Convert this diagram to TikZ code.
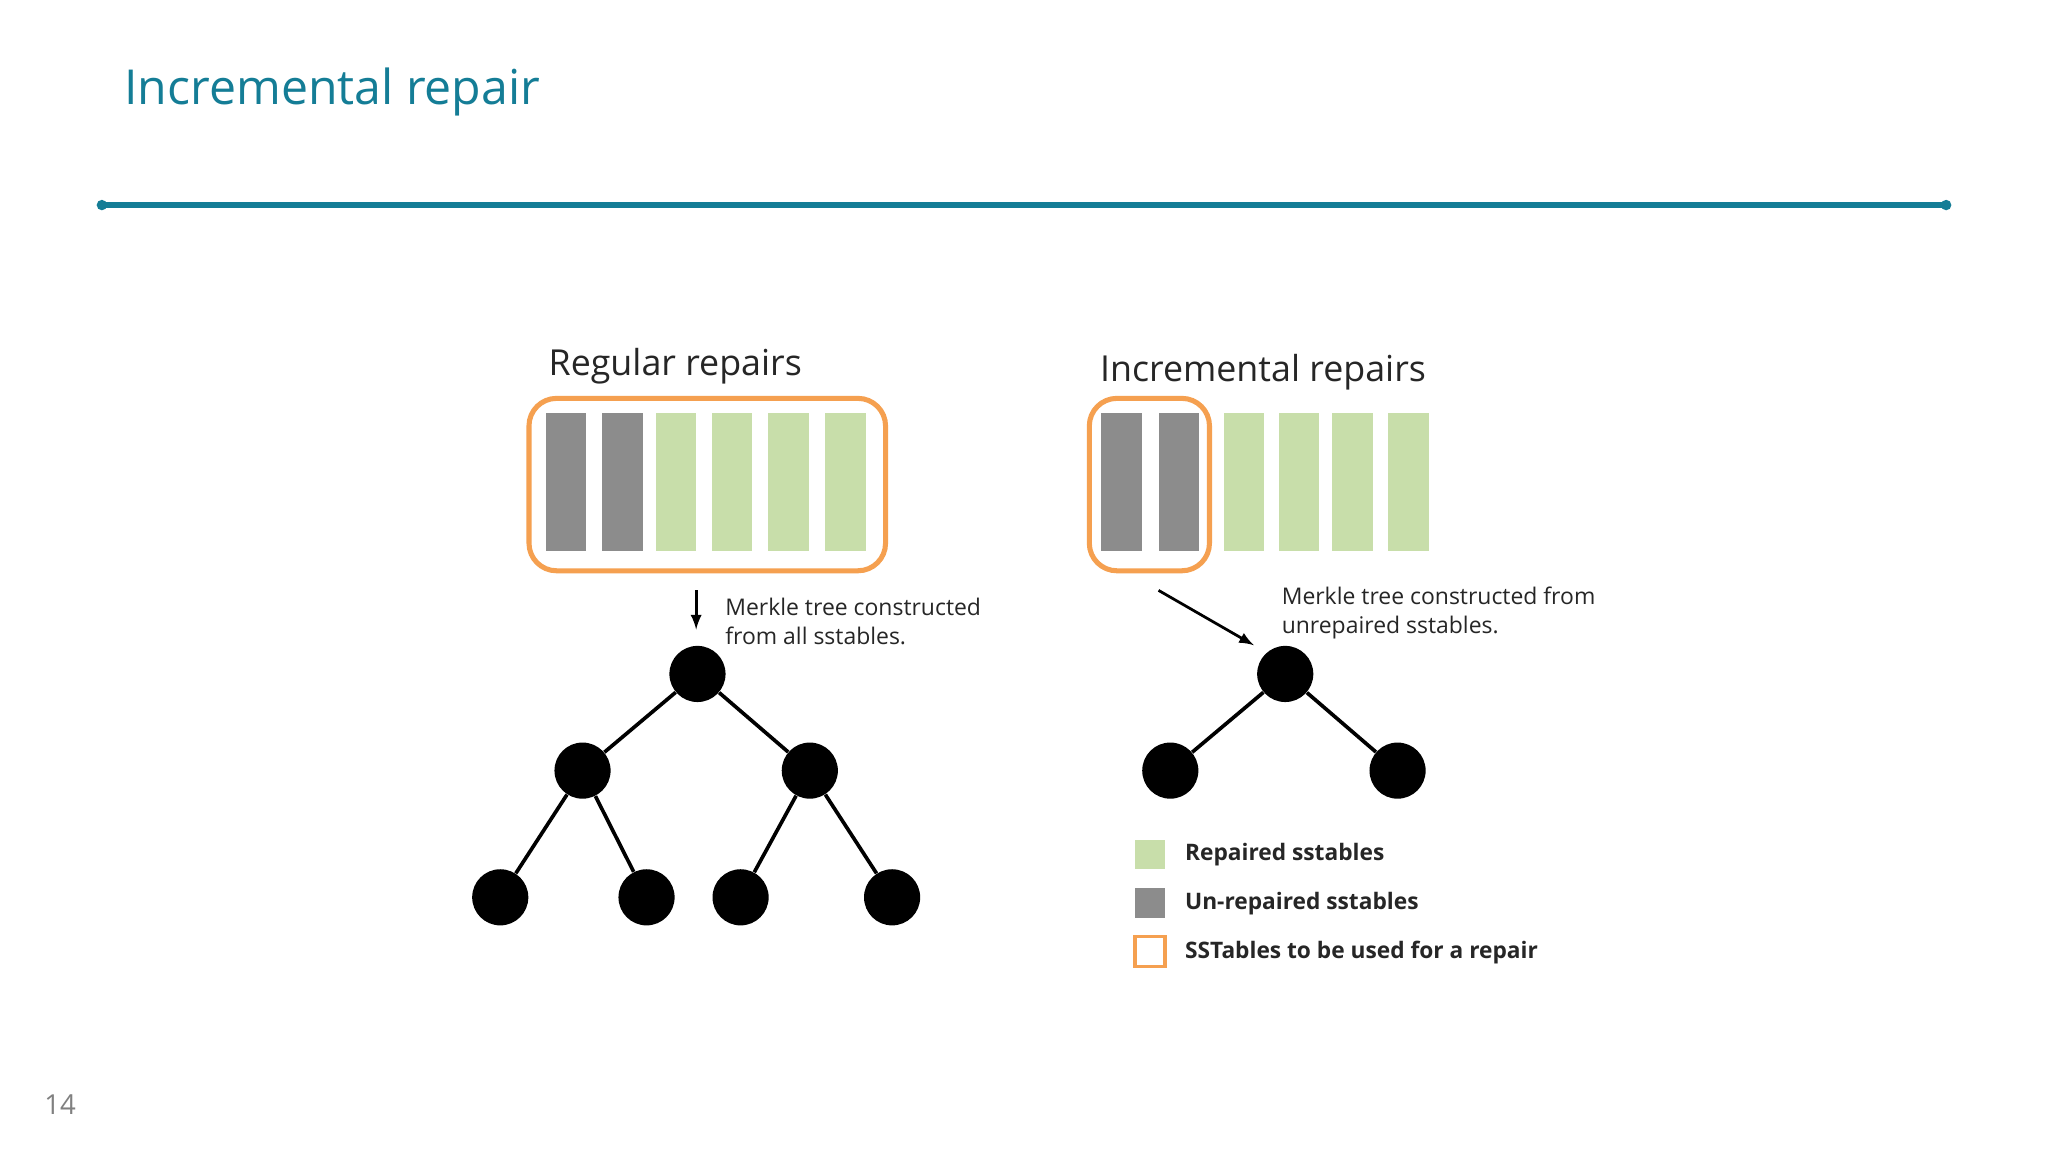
\documentclass[tikz,border=0pt]{standalone}
\usepackage{fontspec}
\setmainfont{Open Sans}
\usepackage{tikz}
\usetikzlibrary{arrows}
\definecolor{teal}{RGB}{20,125,150}
\definecolor{repgreen}{RGB}{200,222,170}
\definecolor{unrepgray}{RGB}{140,140,140}
\definecolor{orng}{RGB}{245,160,80}
\tikzset{
  dot/.style={circle,fill=black,minimum size=0.86cm,inner sep=0pt},
  edge/.style={line width=1.6pt},
  txt/.style={font=\fontsize{10}{12.6}\selectfont,anchor=west,inner sep=0pt,text=black!85,align=left},
  leg/.style={font=\fontsize{9.9}{12}\selectfont\bfseries,anchor=west,inner sep=0pt,text=black!85}
}
\begin{document}
\begin{tikzpicture}[x=0.02cm,y=-0.02cm]
\useasboundingbox (0,0) rectangle (1568,882);
\fill[white] (0,0) rectangle (1568,882);
\node[anchor=base west,inner sep=0pt,text=teal,font=\fontsize{21}{24}\selectfont] (title) at (95,80) {Incremental repair};
\draw[teal,line width=2.4pt] (78,157) -- (1490,157);
\fill[teal] (78,157) circle (4) (1490,157) circle (4);
\node[text=gray,font=\fontsize{12}{14}\selectfont] (page) at (46,846) {14};
% regular repairs
\node[font=\fontsize{15.6}{18}\selectfont,text=black!85] (regt) at (517,280) {Regular repairs};
\foreach \x in {418,461} \fill[unrepgray] (\x,316) rectangle (\x+31,422);
\foreach \x in {502,545,588,632} \fill[repgreen] (\x,316) rectangle (\x+31,422);
\draw[orng,line width=2.2pt,rounded corners=12] (405,305) rectangle (678,437);
\path (533,452) coordinate (A1);
\path (533,482) coordinate (A2);
\draw[-latex,line width=1.2pt] (A1) -- (A2);
\node[txt] (regm) at (555,476) {Merkle tree constructed\\from all sstables.};
\node[dot] (r) at (534,516) {};
\node[dot] (r1) at (446,590) {};
\node[dot] (r2) at (620,590) {};
\node[dot] (r11) at (383,687) {};
\node[dot] (r12) at (495,687) {};
\node[dot] (r21) at (567,687) {};
\node[dot] (r22) at (683,687) {};
\draw[edge] (r) -- (r1) (r) -- (r2) (r1) -- (r11) (r1) -- (r12) (r2) -- (r21) (r2) -- (r22);
% incremental repairs
\node[font=\fontsize{15.6}{18}\selectfont,text=black!85] (inct) at (967,285) {Incremental repairs};
\foreach \x in {843,887} \fill[unrepgray] (\x,316) rectangle (\x+31,422);
\foreach \x in {937,979,1020,1063} \fill[repgreen] (\x,316) rectangle (\x+31,422);
\draw[orng,line width=2.2pt,rounded corners=12] (834,305) rectangle (926,437);
\path (887,452) coordinate (B1);
\path (960,494) coordinate (B2);
\draw[-latex,line width=1.2pt] (B1) -- (B2);
\node[txt] (incm) at (981,469) {Merkle tree constructed from\\unrepaired sstables.};
\node[dot] (i) at (984,516) {};
\node[dot] (i1) at (896,590) {};
\node[dot] (i2) at (1070,590) {};
\draw[edge] (i) -- (i1) (i) -- (i2);
% legend
\fill[repgreen] (869,643) rectangle (892,665);
\node[leg] (l1) at (907,654) {Repaired sstables};
\fill[unrepgray] (869,680) rectangle (892,703);
\node[leg] (l2) at (907,692) {Un-repaired sstables};
\draw[orng,line width=1.6pt] (869,717) rectangle (892,740);
\node[leg] (l3) at (907,729) {SSTables to be used for a repair};
\end{tikzpicture}
\end{document}
